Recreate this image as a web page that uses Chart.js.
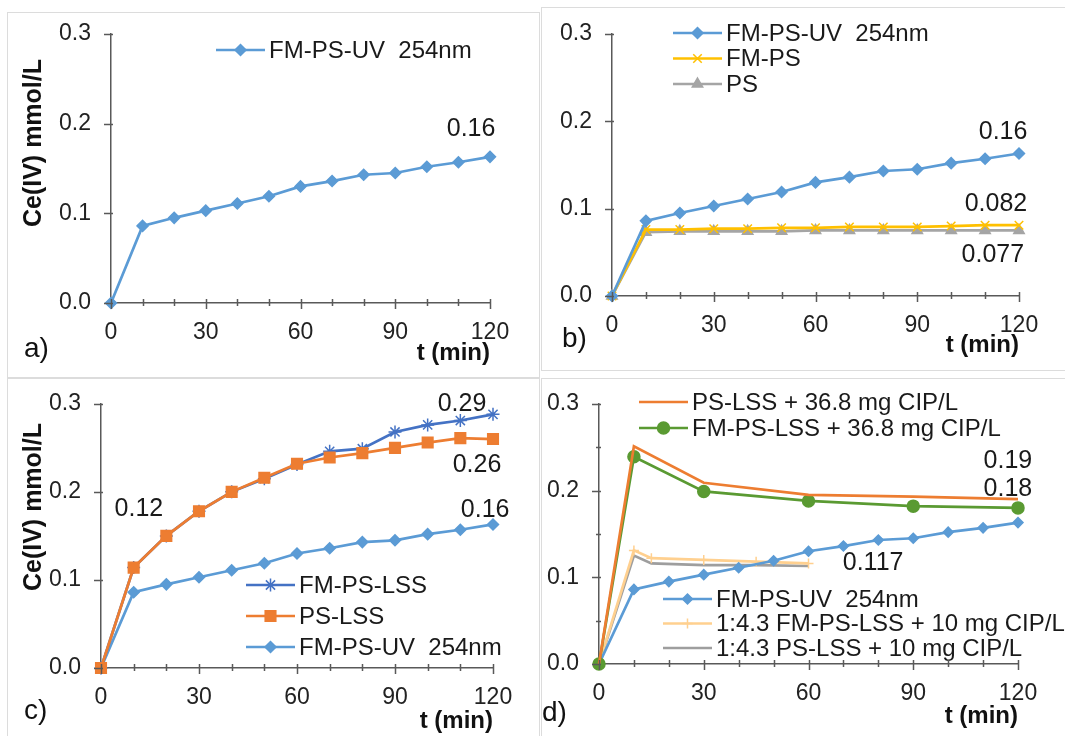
<!DOCTYPE html>
<html lang="en">
<head>
<meta charset="UTF-8">
<title>Ce(IV) vs time</title>
<script src="https://cdn.jsdelivr.net/npm/chart.js"></script>
<style>
  body { margin: 0; background: #fff; }
  #wrap { position: relative; width: 1065px; height: 736px; overflow: hidden; font-family: "Liberation Sans", Arial, sans-serif; }
  canvas { position: absolute; }
  .frame { position: absolute; border: 1px solid #dcdcdc; box-sizing: border-box; }
  .tag { position: absolute; font-size: 28px; color: #111; transform: translateY(-50%); }
  .ytitle { position: absolute; font-size: 25px; font-weight: bold; color: #111; white-space: nowrap;
            transform: translate(-50%, -50%) rotate(-90deg); }
</style>
</head>
<body>
<div id="wrap">
  <div class="frame" style="left:7px;top:12px;width:533px;height:366px"></div>
  <div class="frame" style="left:541px;top:7px;width:530px;height:364px"></div>
  <div class="frame" style="left:7px;top:378px;width:533px;height:370px"></div>
  <div class="frame" style="left:541px;top:378px;width:530px;height:370px"></div>

  <canvas id="chartA" width="530" height="370" style="left:0;top:0"></canvas>
  <canvas id="chartB" width="535" height="370" style="left:530px;top:0"></canvas>
  <canvas id="chartC" width="530" height="366" style="left:0;top:370px"></canvas>
  <canvas id="chartD" width="535" height="366" style="left:530px;top:370px"></canvas>

  <div class="ytitle" style="left:32px;top:143px">Ce(IV) mmol/L</div>
  <div class="ytitle" style="left:32px;top:507px">Ce(IV) mmol/L</div>
  <div class="tag" style="left:24px;top:348px">a)</div>
  <div class="tag" style="left:562px;top:338px">b)</div>
  <div class="tag" style="left:24px;top:710px">c)</div>
  <div class="tag" style="left:542px;top:712px">d)</div>
</div>

<script>
// --- data ---
const times = [0, 10, 20, 30, 40, 50, 60, 70, 80, 90, 100, 110, 120];
const uv254 = [0, 0.086, 0.095, 0.103, 0.111, 0.119, 0.130, 0.136, 0.143, 0.145, 0.152, 0.157, 0.163];
const fmPs = [0, 0.076, 0.076, 0.077, 0.077, 0.078, 0.078, 0.079, 0.079, 0.079, 0.080, 0.081, 0.081];
const ps = [0, 0.073, 0.074, 0.074, 0.074, 0.074, 0.075, 0.075, 0.075, 0.075, 0.075, 0.075, 0.075];
const psLss = [0, 0.114, 0.150, 0.178, 0.200, 0.216, 0.232, 0.239, 0.244, 0.250, 0.256, 0.261, 0.260];
const fmPsLss = [0, 0.114, 0.150, 0.178, 0.200, 0.215, 0.231, 0.246, 0.249, 0.268, 0.276, 0.281, 0.288];

const cipTimes = [0, 10, 30, 60, 90, 120];
const psLssCip = [0, 0.251, 0.209, 0.195, 0.193, 0.190];
const fmPsLssCip = [0, 0.239, 0.199, 0.188, 0.182, 0.180];

const lowCipTimes = [0, 10, 15, 30, 45, 60];
const fmPsLssLowCip = [0, 0.131, 0.122, 0.120, 0.118, 0.116];
const psLssLowCip = [0, 0.125, 0.116, 0.114, 0.114, 0.113];

const xLabelTicks = [0, 30, 60, 90, 120];
const yLabelTicks = [0, 0.1, 0.2, 0.3];

const FONT = '"Liberation Sans", Arial, sans-serif';
const AXIS = '#595959';
Chart.defaults.font.family = FONT;
Chart.defaults.font.size = 23;
Chart.defaults.color = '#333';

function pts(xs, ys) {
    return xs.map(function (x, i) { return { x: x, y: ys[i] }; });
}

function series(label, xs, ys, color, style, radius) {
    return {
        label: label,
        data: pts(xs, ys),
        borderColor: color,
        backgroundColor: color,
        borderWidth: 2.7,
        pointStyle: style || 'circle',
        pointRadius: style ? radius : 0,
        pointBorderColor: color,
        pointBackgroundColor: color,
        pointBorderWidth: 1.5,
        tension: 0,
        clip: false,
        hasMarker: !!style
    };
}

// excel style tick marks on both axes
const tickMarks = {
    id: 'tickMarks',
    afterDraw(chart) {
        const ctx = chart.ctx;
        const xs = chart.scales.x, ys = chart.scales.y;
        const x0 = xs.left, y0 = ys.bottom;
        ctx.save();
        ctx.strokeStyle = AXIS;
        ctx.lineWidth = 1.5;
        ctx.beginPath();
        xs.ticks.forEach(function (t) {
            const px = Math.round(xs.getPixelForValue(t.value)) + 0.5;
            const major = t.value % 30 === 0;
            ctx.moveTo(px, y0 - 4);
            ctx.lineTo(px, y0 + (major ? 6 : 3));
        });
        ys.ticks.forEach(function (t) {
            const py = Math.round(ys.getPixelForValue(t.value)) + 0.5;
            const major = yLabelTicks.some(function (v) { return Math.abs(v - t.value) < 1e-9; });
            ctx.moveTo(x0 - (major ? 7 : 3), py);
            ctx.lineTo(x0 + 2, py);
        });
        ctx.stroke();
        ctx.restore();
    }
};

// legend boxes placed inside the plot
const insideLegend = {
    id: 'insideLegend',
    afterDatasetsDraw(chart, args, opts) {
        const ctx = chart.ctx;
        (opts.groups || []).forEach(function (g) {
            g.items.forEach(function (idx, k) {
                const ds = chart.data.datasets[idx];
                const y = g.y + k * g.gap;
                ctx.save();
                ctx.strokeStyle = ds.borderColor;
                ctx.lineWidth = ds.borderWidth;
                ctx.beginPath();
                ctx.moveTo(g.x, y);
                ctx.lineTo(g.x + g.len, y);
                ctx.stroke();
                if (ds.hasMarker) {
                    ctx.fillStyle = ds.pointBackgroundColor;
                    ctx.lineWidth = ds.pointBorderWidth;
                    Chart.helpers.drawPoint(ctx, {
                        pointStyle: ds.pointStyle, radius: ds.pointRadius,
                        rotation: 0, borderWidth: ds.pointBorderWidth
                    }, g.x + g.len / 2, y);
                }
                ctx.fillStyle = '#1a1a1a';
                ctx.font = '24px ' + FONT;
                ctx.textBaseline = 'middle';
                ctx.textAlign = 'left';
                ctx.fillText(ds.label, g.x + g.len + 4, y + 1);
                ctx.restore();
            });
        });
    }
};

// value notes next to the curves
const valueNotes = {
    id: 'valueNotes',
    afterDatasetsDraw(chart, args, opts) {
        const ctx = chart.ctx;
        ctx.save();
        ctx.fillStyle = '#1a1a1a';
        ctx.font = '25px ' + FONT;
        ctx.textAlign = 'center';
        ctx.textBaseline = 'middle';
        (opts.notes || []).forEach(function (n) {
            ctx.fillText(n.text, chart.scales.x.getPixelForValue(n.x), chart.scales.y.getPixelForValue(n.y));
        });
        ctx.restore();
    }
};

function makeChart(id, p) {
    return new Chart(document.getElementById(id), {
        type: 'line',
        data: { datasets: p.datasets },
        plugins: [tickMarks, insideLegend, valueNotes],
        options: {
            responsive: false,
            animation: false,
            layout: { padding: { left: 0, top: p.top, right: p.right, bottom: 0 } },
            plugins: {
                legend: { display: false },
                tooltip: { enabled: false },
                insideLegend: { groups: p.legend },
                valueNotes: { notes: p.notes }
            },
            scales: {
                x: {
                    type: 'linear', min: 0, max: 120,
                    grid: { display: false, drawTicks: false },
                    border: { display: true, color: AXIS, width: 1.5 },
                    ticks: {
                        stepSize: 10, autoSkip: false, maxRotation: 0, padding: 16, color: '#222',
                        callback: function (v) { return xLabelTicks.includes(v) ? String(v) : ''; }
                    },
                    title: {
                        display: true, text: 't (min)', align: 'end', color: '#111',
                        font: { size: 24, weight: 'bold' }, padding: { top: 0, bottom: p.titlePad }
                    },
                    afterFit: function (s) { s.height = p.xHeight; }
                },
                y: {
                    min: 0, max: 0.3,
                    grid: { display: false, drawTicks: false },
                    border: { display: true, color: AXIS, width: 1.5 },
                    ticks: {
                        stepSize: p.yStep, autoSkip: false, padding: 20, color: '#222',
                        callback: function (v) {
                            return yLabelTicks.some(function (t) { return Math.abs(t - v) < 1e-9; }) ? v.toFixed(1) : '';
                        }
                    },
                    afterFit: function (s) { s.width = p.yWidth; }
                }
            }
        }
    });
}

const BLUE = '#5B9BD5';

makeChart('chartA', {
    top: 34, right: 40, yWidth: 111, xHeight: 67, titlePad: 2, yStep: 0.1,
    datasets: [series('FM-PS-UV  254nm', times, uv254, BLUE, 'rectRot', 5.5)],
    legend: [{ x: 216, y: 50, len: 49, gap: 0, items: [0] }],
    notes: [{ x: 114, y: 0.194, text: '0.16' }]
});

makeChart('chartB', {
    top: 26, right: 46, yWidth: 82, xHeight: 74, titlePad: 10, yStep: 0.1,
    datasets: [
        series('FM-PS-UV  254nm', times, uv254, BLUE, 'rectRot', 5.5),
        series('FM-PS', times, fmPs, '#FFC000', 'crossRot', 6),
        series('PS', times, ps, '#A5A5A5', 'triangle', 6)
    ],
    legend: [{ x: 143, y: 33, len: 49, gap: 25.5, items: [0, 1, 2] }],
    notes: [
        { x: 115.3, y: 0.188, text: '0.16' },
        { x: 113.2, y: 0.1056, text: '0.082' },
        { x: 112.3, y: 0.0467, text: '0.077' }
    ]
});

makeChart('chartC', {
    top: 30, right: 37, yWidth: 101, xHeight: 68, titlePad: 0, yStep: 0.1,
    datasets: [
        series('PS-LSS', times, psLss, '#ED7D31', 'rect', 7.5),
        series('FM-PS-LSS', times, fmPsLss, '#4472C4', 'star', 6.5),
        series('FM-PS-UV  254nm', times, uv254, BLUE, 'rectRot', 5.5)
    ],
    legend: [{ x: 246, y: 215, len: 49, gap: 31, items: [1, 0, 2] }],
    notes: [
        { x: 110.5, y: 0.300, text: '0.29' },
        { x: 115.1, y: 0.2306, text: '0.26' },
        { x: 117.6, y: 0.179, text: '0.16' },
        { x: 11.6, y: 0.180, text: '0.12' }
    ]
});

makeChart('chartD', {
    top: 24, right: 47, yWidth: 69, xHeight: 72, titlePad: 5, yStep: 0.05,
    datasets: [
        series('PS-LSS + 36.8 mg CIP/L', cipTimes, psLssCip, '#ED7D31', null, 0),
        series('FM-PS-LSS + 36.8 mg CIP/L', cipTimes, fmPsLssCip, '#5A9A32', 'circle', 6),
        series('FM-PS-UV  254nm', times, uv254, BLUE, 'rectRot', 5),
        series('1:4.3 FM-PS-LSS + 10 mg CIP/L', lowCipTimes, fmPsLssLowCip, '#FFD08F', 'cross', 5),
        series('1:4.3 PS-LSS + 10 mg CIP/L', lowCipTimes, psLssLowCip, '#9E9E9E', null, 0)
    ],
    legend: [
        { x: 109, y: 32, len: 49, gap: 26, items: [0, 1] },
        { x: 133, y: 229, len: 49, gap: 24.5, items: [2, 3, 4] }
    ],
    notes: [
        { x: 117.1, y: 0.2344, text: '0.19' },
        { x: 117.1, y: 0.2022, text: '0.18' },
        { x: 78.5, y: 0.1167, text: '0.117' }
    ]
});
</script>
</body>
</html>
